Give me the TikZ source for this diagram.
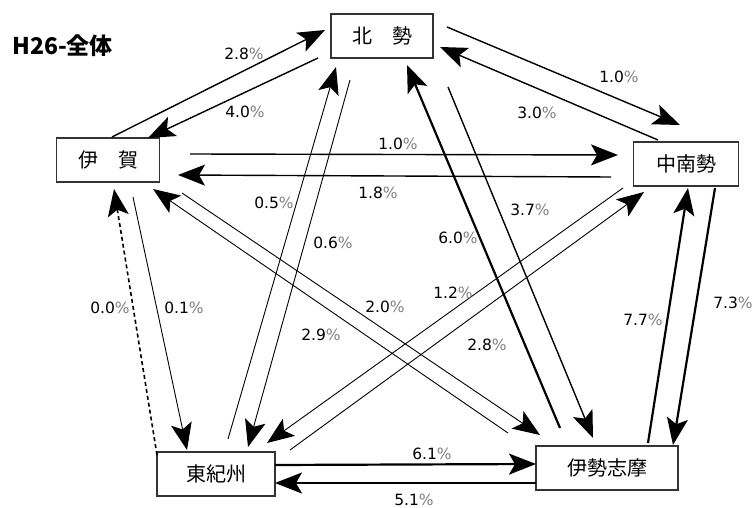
\documentclass[tikz,border=0pt]{standalone}
\usepackage{fontspec}
\setmainfont{DejaVu Sans}
\newfontfamily\jpfont{Noto Sans CJK JP}
\usetikzlibrary{arrows.meta}
\usetikzlibrary{calc}
\newcommand{\grpct}{\textcolor{gray}{\%}}
\tikzset{
  area/.style={draw=black!80,line width=1.2pt,inner sep=0pt,minimum height=44pt,font=\jpfont\fontsize{20}{22}\selectfont},
  rate/.style={inner sep=0pt,text=black,font=\fontsize{15.5}{17}\selectfont},
  flow/.style={-{Stealth[length=27pt,width=21pt,inset=6pt]}},
  lightflow/.style={flow,line width=0.9pt},
  midflow/.style={flow,line width=1.4pt},
  heavyflow/.style={flow,line width=2.2pt},
}

\begin{document}
\begin{tikzpicture}[x=1pt,y=-1pt]
    \useasboundingbox (0,0) rectangle (755,508);
    \node[anchor=west,inner sep=0pt,font=\jpfont\bfseries\fontsize{23}{25}\selectfont] (title) at (12,46) {H26-全体};
    % areas
    \node[area,minimum width=102pt] (hoku) at (382,36) {北　勢};
    \node[area,minimum width=103pt] (iga) at (108,160) {伊　賀};
    \node[area,minimum width=105pt] (chunan) at (686,164) {中南勢};
    \node[area,minimum width=118pt] (higashi) at (216,474) {東紀州};
    \node[area,minimum width=142pt] (ise) at (607,468) {伊勢志摩};
    % flows
    \draw[midflow] ($(iga)+(4,-23)$) -- ($(hoku)+(-57,-6)$);
    \draw[midflow] ($(hoku)+(-64,22)$) -- ($(iga)+(40,-22)$);
    \draw[midflow] ($(hoku)+(65,-9)$) -- ($(chunan)+(-6,-39)$);
    \draw[midflow] ($(chunan)+(-28,-24)$) -- ($(hoku)+(58,11)$);
    \draw[midflow] ($(iga)+(82,-6)$) -- ($(chunan)+(-68,-9)$);
    \draw[midflow] ($(chunan)+(-75,13)$) -- ($(iga)+(70,15)$);
    \draw[lightflow] ($(higashi)+(12,-35)$) -- ($(hoku)+(-46,31)$);
    \draw[lightflow] ($(hoku)+(-32,44)$) -- ($(higashi)+(32,-27)$);
    \draw[lightflow] ($(iga)+(25,37)$) -- ($(higashi)+(-29,-24)$);
    \draw[flow,line width=1.6pt,dash pattern=on 4pt off 3pt] ($(higashi)+(-59,-19)$) -- ($(iga)+(6,29)$);
    \draw[lightflow] ($(ise)+(-99,-35)$) -- ($(iga)+(45,29)$);
    \draw[lightflow] ($(iga)+(74,33)$) -- ($(ise)+(-67,-33)$);
    \draw[lightflow] ($(chunan)+(-63,24)$) -- ($(higashi)+(51,-31)$);
    \draw[lightflow] ($(higashi)+(74,-24)$) -- ($(chunan)+(-42,28)$);
    \draw[heavyflow] ($(ise)+(-47,-40)$) -- ($(hoku)+(25,29)$);
    \draw[midflow] ($(hoku)+(66,51)$) -- ($(ise)+(-14,-30)$);
    \draw[heavyflow] ($(ise)+(41,-25)$) -- ($(chunan)+(2,24)$);
    \draw[heavyflow] ($(chunan)+(29,24)$) -- ($(ise)+(66,-23)$);
    \draw[heavyflow] ($(higashi)+(59,-9)$) -- ($(ise)+(-71,-4)$);
    \draw[heavyflow] ($(ise)+(-71,15)$) -- ($(higashi)+(59,9)$);
    % rates
    \foreach \nm/\px/\py/\val in {ihlab/244/54/2.8, hilab/245/112/4.0, hclab/619/77/1.0, chlab/537/113/3.0,
        iclab/398/144/1.0, cilab/378/193/1.8, khlab/274/203/0.5, hklab/333/243/0.6,
        kilab/110/308/0.0, iklab/184/308/0.1, silab/321/335/2.9, islab/385/307/2.0,
        cklab/453/293/1.2, kclab/487/345/2.8, shlab/458/238/6.0, hslab/530/210/3.7,
        sclab/643/320/7.7, cslab/733/303/7.3, kslab/432/454/6.1, sklab/414/500/5.1} {
      \node[rate] (\nm) at (\px,\py) {\val\grpct};
    }
\end{tikzpicture}
\end{document}
